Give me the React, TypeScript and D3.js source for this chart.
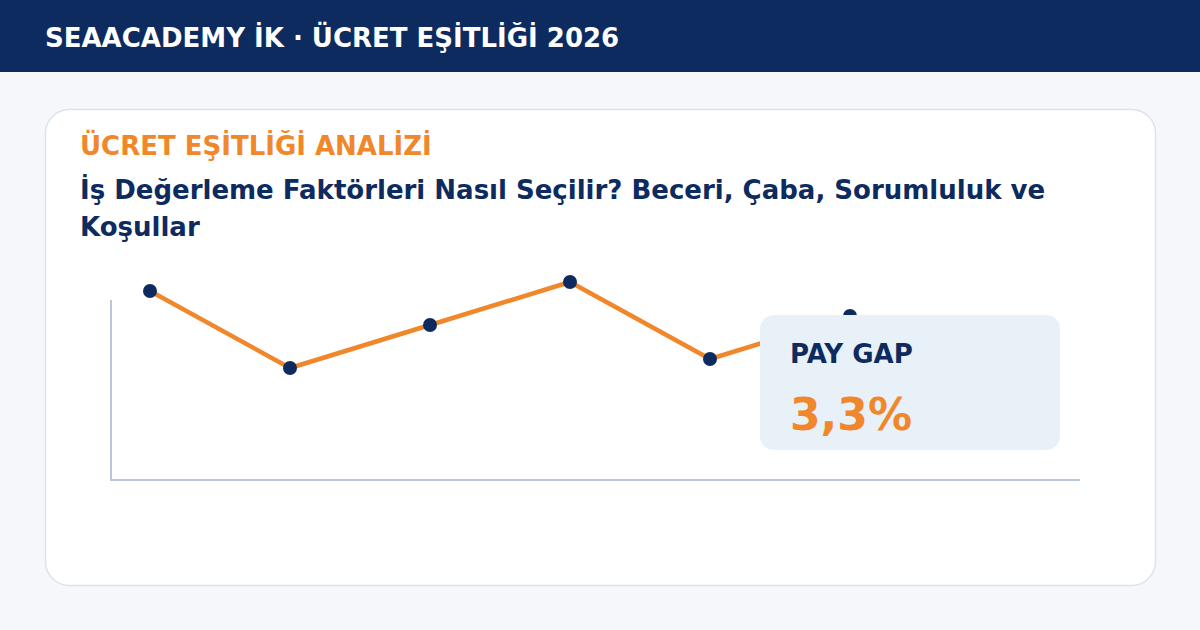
import React from "react";
import * as d3 from "d3";

const categories = ["F1", "F2", "F3", "F4", "F5", "F6"];
const values = [94.5, 56, 77.5, 99, 60.5, 82];
const headerText = "SEAACADEMY İK · ÜCRET EŞİTLİĞİ 2026";
const kicker = "ÜCRET EŞİTLİĞİ ANALİZİ";
const titleLines = ["İş Değerleme Faktörleri Nasıl Seçilir? Beceri, Çaba, Sorumluluk ve", "Koşullar"];
const badgeLabel = "PAY GAP";
const badgeValue = "3,3%";

const W = 1200;
const H = 630;
const NAVY = "#0d2b5e";
const ORANGE = "#f0872a";
const FONT = "'DejaVu Sans', sans-serif";

export default function App() {
  const x = d3.scalePoint<string>().domain(categories).range([150, 850]);
  const y = d3.scaleLinear().domain([0, 100]).range([480, 280]);
  const line = d3
    .line<number>()
    .x((_, i) => x(categories[i]) as number)
    .y((d) => y(d));

  return (
    <svg
      width={W}
      height={H}
      viewBox={`0 0 ${W} ${H}`}
      style={{ position: "absolute", left: 0, top: 0, display: "block" }}
      fontFamily={FONT}
    >
      <rect x={0} y={0} width={W} height={H} fill="#f5f7fb" />
      <rect x={0} y={0} width={W} height={72} fill={NAVY} />
      <text x={45} y={47} fill="#ffffff" fontSize={26} fontWeight="bold">
        {headerText}
      </text>

      <rect x={45.5} y={109.5} width={1110} height={476} rx={24} fill="#ffffff" stroke="#dde3ec" strokeWidth={1.5} />

      <text x={80} y={155} fill={ORANGE} fontSize={26} fontWeight="bold">
        {kicker}
      </text>
      {titleLines.map((t, i) => (
        <text key={i} x={80} y={199 + i * 37} fill={NAVY} fontSize={26} fontWeight="bold">
          {t}
        </text>
      ))}

      <line x1={111} y1={300} x2={111} y2={481} stroke="#b8c7d9" strokeWidth={2} />
      <line x1={110} y1={480} x2={1080} y2={480} stroke="#b8c7d9" strokeWidth={2} />

      <path d={line(values) || ""} fill="none" stroke={ORANGE} strokeWidth={4.5} strokeLinejoin="round" />
      {values.map((v, i) => (
        <circle key={i} cx={x(categories[i])} cy={y(v)} r={7} fill={NAVY} />
      ))}

      <rect x={760} y={315} width={300} height={135} rx={14} fill="#e8f0f8" />
      <text x={790} y={363} fill={NAVY} fontSize={26} fontWeight="bold">
        {badgeLabel}
      </text>
      <text x={790} y={430} fill={ORANGE} fontSize={44} fontWeight="bold">
        {badgeValue}
      </text>
    </svg>
  );
}
